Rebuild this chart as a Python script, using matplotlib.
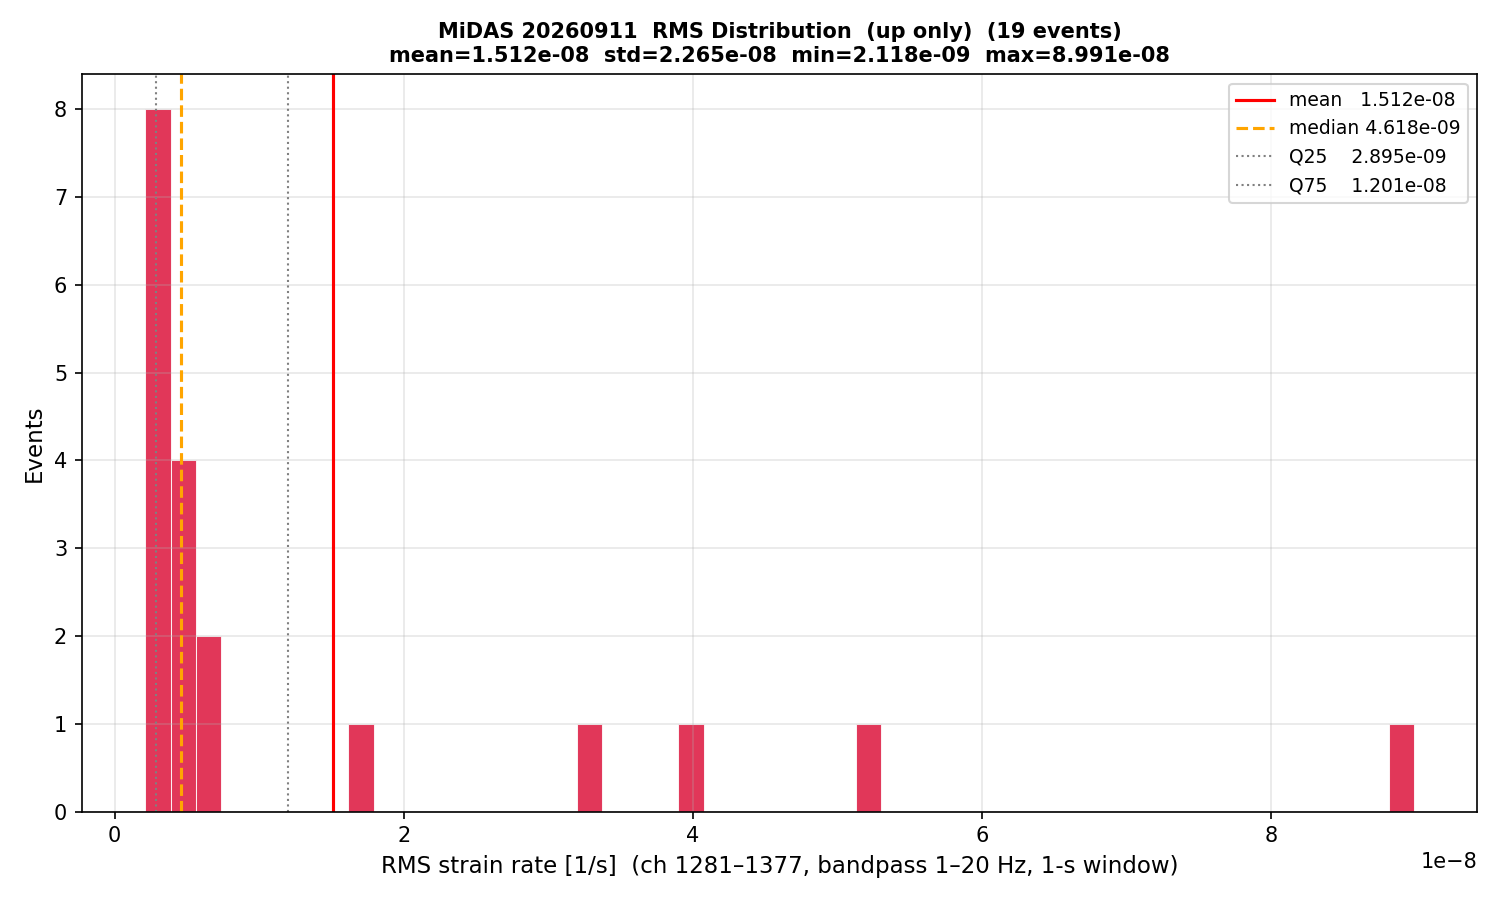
import numpy as np
import matplotlib
matplotlib.use("Agg")
import matplotlib.pyplot as plt

# RMS values per event, in 1/s
rms_vals = np.array([
    0.2118, 0.24, 0.26, 0.28, 0.285, 0.294, 0.31, 0.35,
    0.42, 0.4618, 0.49, 0.53,
    0.62, 0.70,
    1.702, 3.30, 4.02, 5.2624, 8.991,
]) * 1e-8

n_bins = 50
date_tag = "20260911"

mean = rms_vals.mean()
std = rms_vals.std()
med = np.median(rms_vals)
q25, q75 = np.percentile(rms_vals, [25, 75])

fig, ax = plt.subplots(figsize=(10, 6), dpi=150)
ax.hist(rms_vals, bins=n_bins, color="crimson", alpha=0.85, edgecolor="white", linewidth=0.5)

ax.axvline(mean, color="red", linewidth=1.5, label=f"mean   {mean:.3e}")
ax.axvline(med, color="orange", linestyle="--", linewidth=1.5, label=f"median {med:.3e}")
ax.axvline(q25, color="gray", linestyle=":", linewidth=1, label=f"Q25    {q25:.3e}")
ax.axvline(q75, color="gray", linestyle=":", linewidth=1, label=f"Q75    {q75:.3e}")

ax.set_xlabel("RMS strain rate [1/s]  (ch 1281\u20131377, bandpass 1\u201320 Hz, 1-s window)", fontsize=11)
ax.set_ylabel("Events", fontsize=11)
ax.set_title(f"MiDAS {date_tag}  RMS Distribution  (up only)  ({len(rms_vals)} events)\n"
             f"mean={mean:.3e}  std={std:.3e}  min={rms_vals.min():.3e}  max={rms_vals.max():.3e}",
             fontsize=10, fontweight="bold")
ax.legend(fontsize=9, loc="upper right")
ax.grid(True, alpha=0.3)
plt.tight_layout()
plt.savefig("out.png")
